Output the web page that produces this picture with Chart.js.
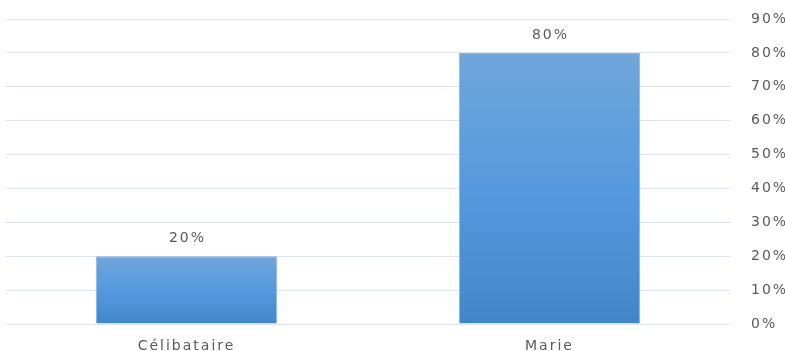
<!DOCTYPE html>
<html>
<head>
<meta charset="utf-8">
<script src="https://cdn.jsdelivr.net/npm/chart.js@4"></script>
<style>
  html, body { margin: 0; padding: 0; background: #ffffff; }
  #wrap { width: 785px; height: 351px; }
</style>
</head>
<body>
<div id="wrap"><canvas id="c" width="785" height="351"></canvas></div>
<script>
const categories = ["Célibataire", "Marie"];
const values = [20, 80];
const valueLabels = ["20%", "80%"];
const yMax = 90;
const yStep = 10;

const FONT = "'DejaVu Sans', 'Open Sans', sans-serif";
const TEXT = "#595959";
const SPACING = "2px";

function barGradient(ctx) {
  const chart = ctx.chart;
  const y = chart.scales && chart.scales.y;
  if (!chart.chartArea || !y || ctx.raw === undefined) return "#5b9bd5";
  const top = y.getPixelForValue(ctx.raw);
  const bottom = y.getPixelForValue(0);
  const g = chart.ctx.createLinearGradient(0, top, 0, bottom);
  g.addColorStop(0, "#70a6da");
  g.addColorStop(0.5, "#559ade");
  g.addColorStop(1, "#4187c8");
  return g;
}

const spacingPlugin = {
  id: "spacing",
  beforeInit(chart) { chart.ctx.letterSpacing = SPACING; },
  beforeLayout(chart) { chart.ctx.letterSpacing = SPACING; },
  beforeDraw(chart) { chart.ctx.letterSpacing = SPACING; }
};

const valueLabelPlugin = {
  id: "valueLabels",
  afterDatasetsDraw(chart) {
    const c = chart.ctx;
    const meta = chart.getDatasetMeta(0);
    c.save();
    c.letterSpacing = SPACING;
    c.font = "14px " + FONT;
    c.fillStyle = TEXT;
    c.textAlign = "center";
    c.textBaseline = "middle";
    meta.data.forEach((bar, i) => {
      c.fillText(valueLabels[i], bar.x + 1, bar.y - 18);
    });
    c.restore();
  }
};

new Chart(document.getElementById("c"), {
  type: "bar",
  data: {
    labels: categories,
    datasets: [{
      data: values,
      backgroundColor: barGradient,
      borderColor: "rgba(125,175,225,0.9)",
      borderWidth: 1,
      categoryPercentage: 1.0,
      barPercentage: 0.5
    }]
  },
  options: {
    responsive: false,
    animation: false,
    layout: { padding: { left: 5, top: 19, right: 0, bottom: 0 } },
    plugins: {
      legend: { display: false },
      title: { display: false },
      tooltip: { enabled: false }
    },
    scales: {
      x: {
        grid: { display: false, drawTicks: false },
        border: { display: false },
        ticks: {
          color: TEXT,
          font: { family: FONT, size: 14 },
          padding: 14,
          maxRotation: 0
        },
        afterFit(scale) { scale.height = 27; }
      },
      y: {
        position: "right",
        min: 0,
        max: yMax,
        grid: { color: "#dfe3ea", lineWidth: 1, drawTicks: false },
        border: { display: false },
        ticks: {
          stepSize: yStep,
          color: TEXT,
          font: { family: FONT, size: 14 },
          padding: 20,
          align: "center",
          crossAlign: "near",
          callback: (v) => v + "%"
        },
        afterFit(scale) {
          scale.width = 54;
          scale.paddingTop = 0;
          scale.paddingBottom = 0;
        }
      }
    }
  },
  plugins: [spacingPlugin, valueLabelPlugin]
});
</script>
</body>
</html>
